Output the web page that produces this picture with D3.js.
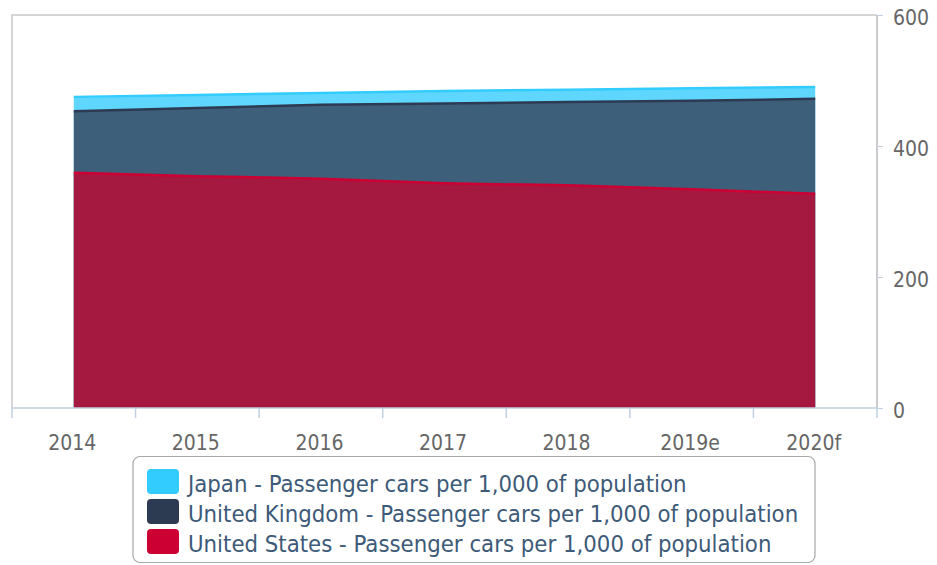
<!DOCTYPE html>
<html>
<head>
<meta charset="utf-8">
<script src="https://cdn.jsdelivr.net/npm/d3@7"></script>
<style>
  html, body { margin: 0; padding: 0; background: #fff; }
  svg { display: block; }
  text { font-family: "DejaVu Sans Condensed", "DejaVu Sans", sans-serif; }
</style>
</head>
<body>
<svg id="chart" width="937" height="565"></svg>
<script>
// Passenger cars per 1,000 of population
const years = ["2014", "2015", "2016", "2017", "2018", "2019e", "2020f"];
const japan = [475, 478, 481, 484, 486, 488, 490];
const unitedKingdom = [453, 458, 463, 465, 467, 469, 472];
const unitedStates = [359, 354, 350, 343, 340, 334, 327];
const yTicks = [0, 200, 400, 600];

const seriesNames = [
  "Japan - Passenger cars per 1,000 of population",
  "United Kingdom - Passenger cars per 1,000 of population",
  "United States - Passenger cars per 1,000 of population"
];
const seriesValues = [japan, unitedKingdom, unitedStates];
const lineColors = ["#33ccff", "#2c3a52", "#cc0033"];
const fillColors = ["#5fd6fd", "#3d5f7a", "#a51840"];

const svg = d3.select("#chart");
const plotLeft = 12, plotRight = 877, plotTop = 15, plotBottom = 408;

const x = d3.scaleBand().domain(years).range([plotLeft, plotRight]);
const y = d3.scaleLinear().domain([0, 600]).range([plotBottom, plotTop]);
const cx = d => x(d) + x.bandwidth() / 2;

// plot frame (top and left)
svg.append("path")
  .attr("d", `M${plotLeft},${plotBottom} V${plotTop} H${plotRight}`)
  .attr("fill", "none")
  .attr("stroke", "#d6d6d6")
  .attr("stroke-width", 2);

// overlapping areas, back to front
const area = d3.area()
  .x(d => cx(d.year))
  .y0(y(0))
  .y1(d => y(d.value));
const line = d3.line()
  .x(d => cx(d.year))
  .y(d => y(d.value));

seriesValues.forEach((vals, i) => {
  const pts = years.map((yr, j) => ({ year: yr, value: vals[j] }));
  svg.append("path")
    .attr("d", area(pts))
    .attr("fill", fillColors[i]);
  svg.append("path")
    .attr("d", line(pts))
    .attr("fill", "none")
    .attr("stroke", lineColors[i])
    .attr("stroke-width", 2.5);
});

// right value axis
const yAxis = svg.append("g")
  .attr("transform", `translate(${plotRight},0)`)
  .call(d3.axisRight(y).tickValues(yTicks).tickSize(6).tickPadding(10));
yAxis.select(".domain").attr("stroke", "#cccccc").attr("stroke-width", 2)
  .attr("d", `M0,${plotTop}V${plotBottom}`);
yAxis.selectAll(".tick line").attr("stroke", "#c0d0e0");
yAxis.selectAll(".tick text")
  .attr("fill", "#666666")
  .attr("font-size", 21)
  .attr("dy", "0.47em")
  .style("font-family", "'DejaVu Sans Condensed', 'DejaVu Sans', sans-serif");

// category axis
const boundaries = years.map(d => x(d)).concat([plotRight]);
const xAxisG = svg.append("g");
xAxisG.append("line")
  .attr("x1", plotLeft).attr("x2", plotRight)
  .attr("y1", plotBottom).attr("y2", plotBottom)
  .attr("stroke", "#c0d0e0").attr("stroke-width", 1.5);
xAxisG.selectAll("line.tick")
  .data(boundaries)
  .join("line")
  .attr("class", "tick")
  .attr("x1", d => d).attr("x2", d => d)
  .attr("y1", plotBottom).attr("y2", plotBottom + 10)
  .attr("stroke", "#c0d0e0").attr("stroke-width", 1.5);
xAxisG.selectAll("text")
  .data(years)
  .join("text")
  .attr("x", d => cx(d) - 1.5)
  .attr("y", 450)
  .attr("text-anchor", "middle")
  .attr("fill", "#666666")
  .attr("font-size", 21)
  .text(d => d);

// legend
const legend = svg.append("g");
legend.append("rect")
  .attr("x", 133).attr("y", 456.5)
  .attr("width", 682).attr("height", 106)
  .attr("rx", 7).attr("ry", 7)
  .attr("fill", "#ffffff")
  .attr("stroke", "#a8a8a8").attr("stroke-width", 1.2);
const rows = legend.selectAll("g.row")
  .data(seriesNames)
  .join("g")
  .attr("class", "row")
  .attr("transform", (d, i) => `translate(147,${469 + i * 30})`);
rows.append("rect")
  .attr("width", 32).attr("height", 25)
  .attr("rx", 4).attr("ry", 4)
  .attr("fill", (d, i) => lineColors[i]);
rows.append("text")
  .attr("x", 41).attr("y", 23)
  .attr("fill", "#3d5a78")
  .attr("font-size", 23.7)
  .text(d => d);
</script>
</body>
</html>
